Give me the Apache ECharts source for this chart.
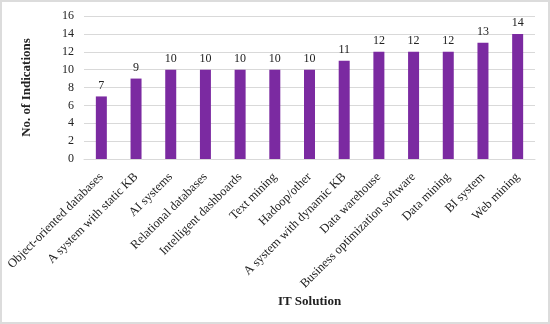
<!DOCTYPE html>
<html><head><meta charset="utf-8">
<script src="https://cdn.jsdelivr.net/npm/echarts@6/dist/echarts.min.js"></script>
<style>html,body{margin:0;padding:0;background:#fff}#c{width:550px;height:324px;box-sizing:border-box;border:2px solid #dcdcdc}</style>
</head><body><div id="c"></div>
<script>
const categories = ["Object-oriented databases","A system with static KB","AI systems","Relational databases","Intelligent dashboards","Text mining","Hadoop/other","A system with dynamic KB","Data warehouse","Business optimization software","Data mining","BI system","Web mining"];
const values = [7,9,10,10,10,10,10,11,12,12,12,13,14];
const yTicks = [0,2,4,6,8,10,12,14,16];
const font = "'Liberation Serif','DejaVu Serif',serif";
const chart = echarts.init(document.getElementById('c'));
chart.setOption({
  animation:false,
  textStyle:{fontFamily:font},
  grid:{left:82,right:13,top:14,bottom:163},
  xAxis:{type:'category',data:categories,
    name:'IT Solution',nameLocation:'middle',nameGap:136,
    nameTextStyle:{fontFamily:font,fontWeight:'bold',fontSize:13,color:'#222'},
    axisLine:{lineStyle:{color:'#d9d9d9'}},axisTick:{show:false},
    axisLabel:{rotate:45,interval:0,fontFamily:font,fontSize:12.5,color:'#222',margin:16}},
  yAxis:{type:'value',min:0,max:16,interval:2,
    name:'No. of Indications',nameLocation:'middle',nameGap:51,
    nameTextStyle:{fontFamily:font,fontWeight:'bold',fontSize:13,color:'#222'},
    axisLine:{show:false},axisTick:{show:false},
    axisLabel:{fontFamily:font,fontSize:12,color:'#222',margin:10,
      formatter:v=>yTicks.includes(v)?String(v):''},
    splitLine:{lineStyle:{color:'#d9d9d9'}}},
  series:[{type:'bar',data:values,barWidth:11,
    itemStyle:{color:'#7B2AA1'},
    label:{show:true,position:'top',fontFamily:font,fontSize:12,color:'#222',distance:5}}]
});
</script></body></html>
